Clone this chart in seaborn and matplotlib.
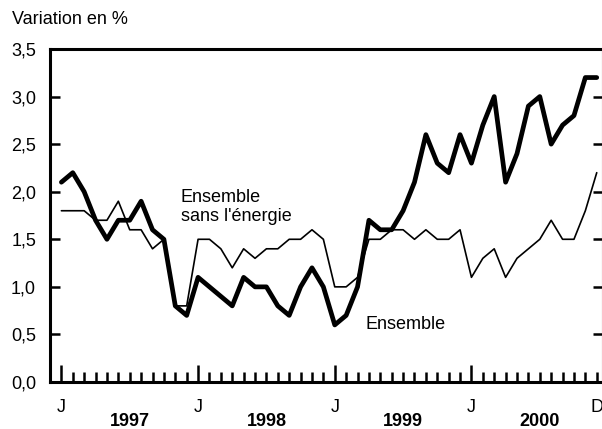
import numpy as np
import pandas as pd
import matplotlib
matplotlib.use("Agg")
import matplotlib.pyplot as plt
import matplotlib.transforms as mtransforms
import seaborn as sns

# ── Données (variation annuelle en %, mensuel jan. 1997 - déc. 2000) ──
mois = list(range(48))
ensemble = [2.1, 2.2, 2.0, 1.7, 1.5, 1.7, 1.7, 1.9, 1.6, 1.5, 0.8, 0.7,
            1.1, 1.0, 0.9, 0.8, 1.1, 1.0, 1.0, 0.8, 0.7, 1.0, 1.2, 1.0,
            0.6, 0.7, 1.0, 1.7, 1.6, 1.6, 1.8, 2.1, 2.6, 2.3, 2.2, 2.6,
            2.3, 2.7, 3.0, 2.1, 2.4, 2.9, 3.0, 2.5, 2.7, 2.8, 3.2, 3.2]
sans_energie = [1.8, 1.8, 1.8, 1.7, 1.7, 1.9, 1.6, 1.6, 1.4, 1.5, 0.8, 0.8,
                1.5, 1.5, 1.4, 1.2, 1.4, 1.3, 1.4, 1.4, 1.5, 1.5, 1.6, 1.5,
                1.0, 1.0, 1.1, 1.5, 1.5, 1.6, 1.6, 1.5, 1.6, 1.5, 1.5, 1.6,
                1.1, 1.3, 1.4, 1.1, 1.3, 1.4, 1.5, 1.7, 1.5, 1.5, 1.8, 2.2]
annees = ['1997', '1998', '1999', '2000']
yticks = [0.0, 0.5, 1.0, 1.5, 2.0, 2.5, 3.0, 3.5]

df = pd.DataFrame({'mois': mois, 'Ensemble': ensemble,
                   'Ensemble sans l\'énergie': sans_energie})

sns.set_style("white")
plt.rcParams['font.family'] = ['Liberation Sans', 'DejaVu Sans']
plt.rcParams.update({'font.size': 13, 'text.color': 'black',
                     'xtick.color': 'black', 'ytick.color': 'black'})

fig = plt.figure(figsize=(6.02, 4.29), dpi=100)
ax = fig.add_axes([50 / 602, 47 / 429, 553 / 602, 333 / 429])

sns.lineplot(data=df, x='mois', y='Ensemble sans l\'énergie', ax=ax,
             color='black', linewidth=1.2)
sns.lineplot(data=df, x='mois', y='Ensemble', ax=ax,
             color='black', linewidth=3.4)

ax.set_xlim(-1.0, 47.55)
ax.set_ylim(0, 3.5)
ax.set_xlabel(''); ax.set_ylabel('')

for s in ax.spines.values():
    s.set_linewidth(2.2); s.set_color('black')

# Axe des y : graduations intérieures des deux côtés
ax.set_yticks(yticks)
ax.set_yticklabels([f"{v:.1f}".replace('.', ',') for v in yticks])
ax.tick_params(axis='y', direction='in', length=7, width=1.8, left=True,
               right=True, pad=10, labelsize=13, colors='black')

# Axe des x : un trait par mois, plus long en janvier
ax.set_xticks([0, 12, 24, 36])
ax.set_xticklabels(['J'] * 4)
minor = [m for m in mois if m % 12 != 0]
ax.set_xticks(minor, minor=True)
ax.set_xticklabels(['D' if m == 47 else '' for m in minor], minor=True)
ax.tick_params(axis='x', which='major', direction='in', length=12, width=1.8,
               pad=12, labelsize=13, bottom=True, colors='black')
ax.tick_params(axis='x', which='minor', direction='in', length=7, width=1.8,
               pad=12, labelsize=13, bottom=True, colors='black')

trans = mtransforms.blended_transform_factory(ax.transData, ax.transAxes)
for k, an in enumerate(annees):
    ax.text(6 + 12 * k, -0.12, an, transform=trans, ha='center', va='center',
            fontsize=13, fontweight='bold')

ax.text(10.5, 1.84, "Ensemble\nsans l'énergie", ha='left', va='center',
        fontsize=13, linespacing=1.2)
ax.text(26.7, 0.6, "Ensemble", ha='left', va='center', fontsize=13)

fig.text(12 / 602, 1 - 19 / 429, "Variation en %", ha='left', va='center',
         fontsize=13)

fig.savefig('out.png', dpi=100)
